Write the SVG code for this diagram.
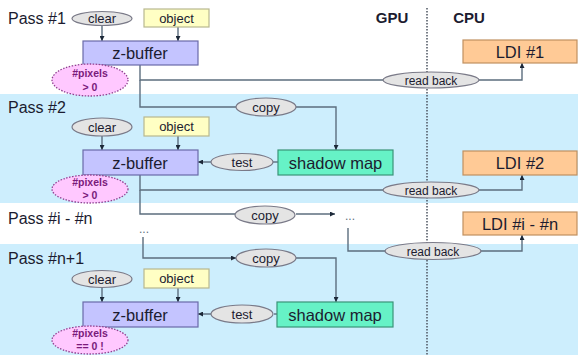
<svg xmlns="http://www.w3.org/2000/svg" width="578" height="356" viewBox="0 0 578 356">
<style>
text{font-family:"Liberation Sans",Arial,sans-serif;fill:#1c1c30;text-anchor:middle}
.pass{font-size:16px;text-anchor:start}
.hdr{font-size:15px;font-weight:bold}
.oval{fill:#e4e4e4;stroke:#7a7a88;stroke-width:1.2}
.obj{fill:#ffffc4;stroke:#b8b890;stroke-width:1.2}
.zb{fill:#c4c4ff;stroke:#6a6aa8;stroke-width:1.2}
.sm{fill:#66f2c6;stroke:#3a9478;stroke-width:1.2}
.ldi{fill:#ffca96;stroke:#c09060;stroke-width:1.2}
.pix{fill:#ffc8ff;stroke:#904090;stroke-width:1.3;stroke-dasharray:1.5 1.5}
.pt{font-size:10.5px;font-weight:bold;fill:#7a1a7a}
.s13{font-size:13px}
.s12{font-size:12px}
.big{font-size:16.5px}
.conn path,.conn line{fill:none;stroke:#5c6e7e;stroke-width:1.4}
.dots{font-size:12px;fill:#607080}
</style>
<defs>
<marker id="ah" viewBox="0 0 6 6" refX="6" refY="3" markerWidth="5" markerHeight="5" orient="auto" markerUnits="userSpaceOnUse">
<path d="M0,0 L6,3 L0,6 z" fill="#1c2838"/>
</marker>
</defs>
<rect x="0" y="0" width="578" height="356" fill="#ffffff"/>
<rect x="0" y="94" width="578" height="109" fill="#cdeefd"/>
<rect x="0" y="244" width="578" height="111" fill="#cdeefd"/>
<line x1="427" y1="8" x2="427" y2="356" stroke="#4c5460" stroke-width="1.5" stroke-dasharray="1.5 1.5"/>
<text class="hdr" x="392" y="23">GPU</text>
<text class="hdr" x="469" y="23">CPU</text>
<text class="pass" x="8" y="24">Pass #1</text>
<text class="pass" x="8" y="113">Pass #2</text>
<text class="pass" x="8" y="224">Pass #i - #n</text>
<text class="pass" x="8" y="264">Pass #n+1</text>

<g class="conn">
<line x1="102" y1="25" x2="102" y2="41" marker-end="url(#ah)"/>
<line x1="178" y1="27" x2="178" y2="41" marker-end="url(#ah)"/>
<path d="M140,65 V80 H383"/>
<path d="M479,80 H522 V63" marker-end="url(#ah)"/>
<path d="M140,80 V107 H236"/>
<path d="M296,107 H336 V150" marker-end="url(#ah)"/>
<line x1="102" y1="136" x2="102" y2="150" marker-end="url(#ah)"/>
<line x1="178" y1="136" x2="178" y2="150" marker-end="url(#ah)"/>
<line x1="211" y1="162" x2="198" y2="162" marker-end="url(#ah)"/>
<line x1="278" y1="162" x2="273" y2="162"/>
<path d="M140,175 V190 H383"/>
<path d="M479,190 H522 V175" marker-end="url(#ah)"/>
<path d="M140,190 V214 H235"/>
<path d="M296,214 H335" marker-end="url(#ah)"/>
<path d="M348,228 V251 H386"/>
<path d="M481,251 H522 V235" marker-end="url(#ah)"/>
<path d="M143,237 V258 H236" marker-end="url(#ah)"/>
<path d="M296,258 H336 V302" marker-end="url(#ah)"/>
<line x1="102" y1="287" x2="102" y2="302" marker-end="url(#ah)"/>
<line x1="178" y1="288" x2="178" y2="302" marker-end="url(#ah)"/>
<line x1="211" y1="314" x2="198" y2="314" marker-end="url(#ah)"/>
<line x1="277" y1="314" x2="274" y2="314"/>
</g>

<g id="clear1"><ellipse class="oval" cx="102" cy="18.5" rx="30" ry="7"/><text class="s13" x="102" y="23">clear</text></g>
<g id="object1"><rect class="obj" x="144" y="9" width="65" height="18"/><text class="s13" x="176.5" y="22.5">object</text></g>
<g id="zbuffer1"><rect class="zb" x="83" y="41" width="115" height="24"/><text class="big" x="140" y="59">z-buffer</text></g>
<g id="pixels1"><ellipse class="pix" cx="90" cy="80" rx="38" ry="16"/><text class="pt" x="90" y="77">#pixels</text><text class="pt" x="90" y="91">&gt; 0</text></g>
<g id="readback1"><ellipse class="oval" cx="431" cy="80" rx="48" ry="8"/><text class="s12" x="431" y="84.5">read back</text></g>
<g id="ldi1"><rect class="ldi" x="463" y="40" width="114" height="23"/><text class="big" x="520" y="57.5">LDI #1</text></g>

<g id="copy2"><ellipse class="oval" cx="266" cy="107" rx="30" ry="9"/><text class="s13" x="266" y="112">copy</text></g>
<g id="clear2"><ellipse class="oval" cx="102" cy="127" rx="30" ry="9"/><text class="s13" x="102" y="132">clear</text></g>
<g id="object2"><rect class="obj" x="144" y="117" width="65" height="19"/><text class="s13" x="176.5" y="131">object</text></g>
<g id="zbuffer2"><rect class="zb" x="83" y="150" width="115" height="25"/><text class="big" x="140" y="168.5">z-buffer</text></g>
<g id="pixels2"><ellipse class="pix" cx="90" cy="189" rx="38" ry="14"/><text class="pt" x="90" y="186">#pixels</text><text class="pt" x="90" y="199">&gt; 0</text></g>
<g id="test2"><ellipse class="oval" cx="242" cy="162" rx="31" ry="8.5"/><text class="s13" x="242" y="167">test</text></g>
<g id="shadow2"><rect class="sm" x="278" y="150" width="115" height="25"/><text class="big" x="335.5" y="168.5">shadow map</text></g>
<g id="readback2"><ellipse class="oval" cx="431" cy="190" rx="48" ry="8"/><text class="s12" x="431" y="194.5">read back</text></g>
<g id="ldi2"><rect class="ldi" x="463" y="151" width="114" height="24"/><text class="big" x="520" y="169">LDI #2</text></g>

<g id="copyi"><ellipse class="oval" cx="265" cy="215" rx="30" ry="9"/><text class="s13" x="265" y="220">copy</text></g>
<g id="dotsi"><text class="dots" x="350" y="220">...</text></g>
<g id="dotsleft"><text class="dots" x="144" y="233">...</text></g>
<g id="readbacki"><ellipse class="oval" cx="433" cy="251" rx="48" ry="8.5"/><text class="s12" x="433" y="255.5">read back</text></g>
<g id="ldii"><rect class="ldi" x="463" y="212" width="114" height="23"/><text class="big" x="520" y="229.5">LDI #i - #n</text></g>

<g id="copyn"><ellipse class="oval" cx="266" cy="258" rx="30" ry="9"/><text class="s13" x="266" y="263">copy</text></g>
<g id="clearn"><ellipse class="oval" cx="102" cy="279" rx="30" ry="8.5"/><text class="s13" x="102" y="284">clear</text></g>
<g id="objectn"><rect class="obj" x="144" y="269" width="65" height="19"/><text class="s13" x="176.5" y="283">object</text></g>
<g id="zbuffern"><rect class="zb" x="83" y="302" width="115" height="25"/><text class="big" x="140" y="320.5">z-buffer</text></g>
<g id="pixelsn"><ellipse class="pix" cx="90" cy="340" rx="38" ry="14"/><text class="pt" x="90" y="337">#pixels</text><text class="pt" x="90" y="350">== 0 !</text></g>
<g id="testn"><ellipse class="oval" cx="242" cy="314" rx="31" ry="9"/><text class="s13" x="242" y="319">test</text></g>
<g id="shadown"><rect class="sm" x="277" y="302" width="116" height="25"/><text class="big" x="335" y="320.5">shadow map</text></g>
</svg>
